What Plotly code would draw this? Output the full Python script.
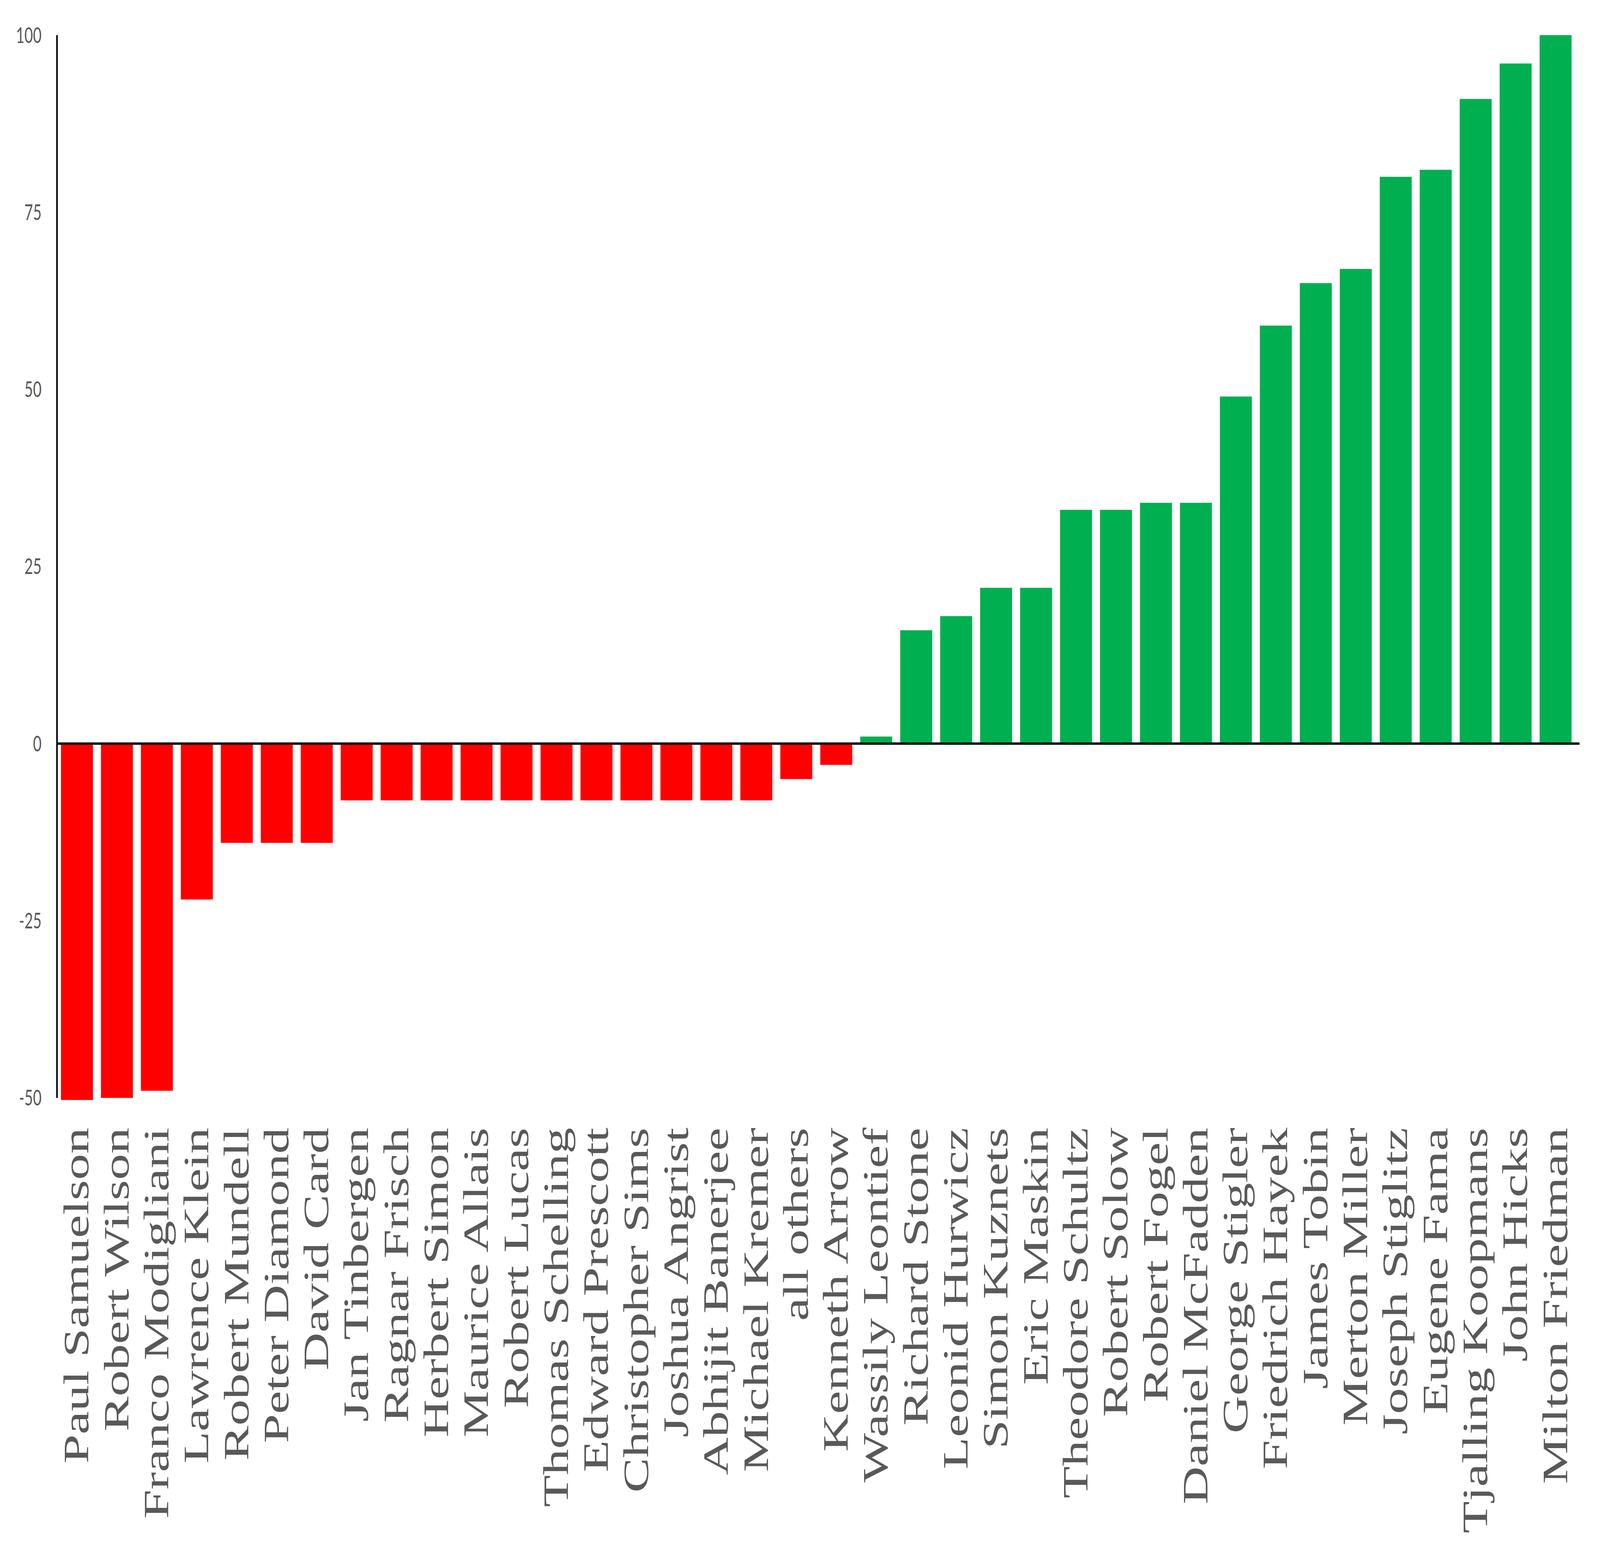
import plotly.graph_objects as go

names = [
    "Paul Samuelson", "Robert Wilson", "Franco Modigliani", "Lawrence Klein",
    "Robert Mundell", "Peter Diamond", "David Card", "Jan Tinbergen",
    "Ragnar Frisch", "Herbert Simon", "Maurice Allais", "Robert Lucas",
    "Thomas Schelling", "Edward Prescott", "Christopher Sims", "Joshua Angrist",
    "Abhijit Banerjee", "Michael Kremer", "all others", "Kenneth Arrow",
    "Wassily Leontief", "Richard Stone", "Leonid Hurwicz", "Simon Kuznets",
    "Eric Maskin", "Theodore Schultz", "Robert Solow", "Robert Fogel",
    "Daniel McFadden", "George Stigler", "Friedrich Hayek", "James Tobin",
    "Merton Miller", "Joseph Stiglitz", "Eugene Fama", "Tjalling Koopmans",
    "John Hicks", "Milton Friedman",
]

values = [
    -50.3, -50, -49, -22,
    -14, -14, -14, -8,
    -8, -8, -8, -8,
    -8, -8, -8, -8,
    -8, -8, -5, -3,
    1, 16, 18, 22,
    22, 33, 33, 34,
    34, 49, 59, 65,
    67, 80, 81, 91,
    96, 100,
]

y_ticks = [-50, -25, 0, 25, 50, 75, 100]

RED = "#FF0000"
GREEN = "#00B050"
colors = [GREEN if v > 0 else RED for v in values]

FIG_W, FIG_H = 6092, 3977

fig = go.Figure(
    go.Bar(
        x=names,
        y=values,
        marker=dict(color=colors, line=dict(width=0)),
        hoverinfo="x+y",
    )
)

fig.update_layout(
    width=FIG_W,
    height=FIG_H,
    margin=dict(l=217, r=93, t=90, b=1161),
    paper_bgcolor="white",
    plot_bgcolor="white",
    bargap=0.2,
    showlegend=False,
    xaxis=dict(
        type="category",
        range=[-0.5, len(names) - 0.5],
        tickmode="linear",
        tick0=0,
        dtick=1,
        showgrid=False,
        showline=False,
        zeroline=False,
        ticks="",
        tickangle=-90,
        tickfont=dict(family="Liberation Serif", size=134, color="#595959"),
        ticklabelstandoff=42,
    ),
    yaxis=dict(
        range=[-50.35, 100],
        tickvals=y_ticks,
        ticktext=[str(t) for t in y_ticks],
        showgrid=False,
        showline=False,
        zeroline=False,
        ticks="",
        tickfont=dict(family="Lato", size=56, color="#595959"),
        ticklabelstandoff=58,
    ),
    shapes=[
        dict(type="line", xref="paper", yref="y", x0=0, x1=0, y0=-50, y1=100,
             line=dict(color="black", width=6), layer="above"),
        dict(type="line", xref="paper", yref="y", x0=0, x1=1.0026, y0=0, y1=0,
             line=dict(color="black", width=6), layer="above"),
    ],
)

# Fit the 6092x3977 figure into whatever viewport the browser actually has
post = """
(function () {
  var gd = document.getElementById('{plot_id}');
  var W = %d, H = %d;
  document.documentElement.style.margin = '0';
  document.documentElement.style.overflow = 'hidden';
  document.body.style.margin = '0';
  document.body.style.overflow = 'hidden';
  var vw = window.innerWidth, vh = window.innerHeight;
  var sx = vw / W, sy = vh / H;
  var wrap = gd.parentElement;
  wrap.style.width = vw + 'px';
  wrap.style.height = vh + 'px';
  wrap.style.overflow = 'hidden';
  gd.style.transformOrigin = '0 0';
  gd.style.transform = 'scale(' + sx + ',' + sy + ')';
})();
""" % (FIG_W, FIG_H)

fig.write_html("out.html", post_script=post, config={"displayModeBar": False})
